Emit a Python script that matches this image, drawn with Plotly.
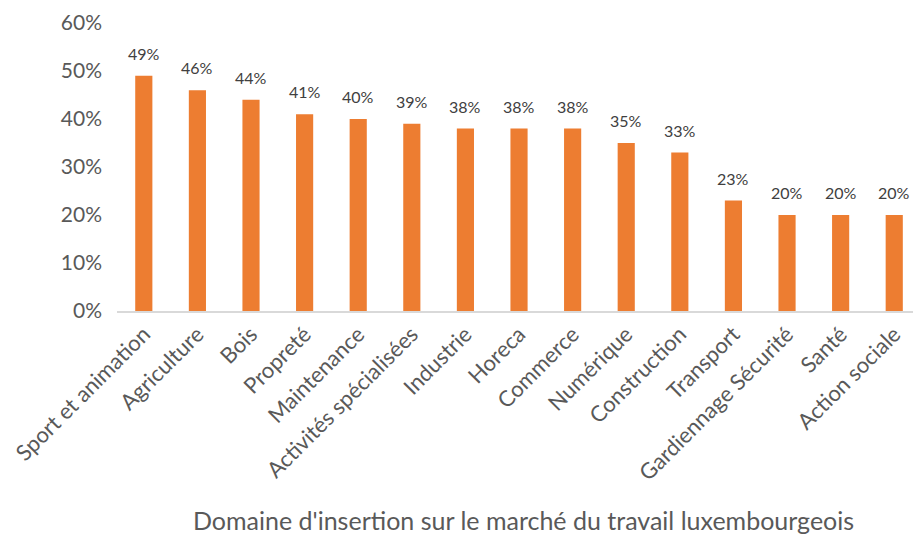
import plotly.graph_objects as go

categories = ["Sport et animation", "Agriculture", "Bois", "Propreté", "Maintenance",
              "Activités spécialisées", "Industrie", "Horeca", "Commerce", "Numérique",
              "Construction", "Transport", "Gardiennage Sécurité", "Santé", "Action sociale"]
values = [0.49, 0.46, 0.44, 0.41, 0.40, 0.39, 0.38, 0.38, 0.38, 0.35, 0.33, 0.23, 0.20, 0.20, 0.20]
y_ticks = [0, 0.1, 0.2, 0.3, 0.4, 0.5, 0.6]
y_tick_labels = ["0%", "10%", "20%", "30%", "40%", "50%", "60%"]
x_title = "Domaine d'insertion sur le marché du travail luxembourgeois"

FONT = "Lato, Carlito, Calibri, sans-serif"

W, H = 913, 534
ML, MR, MT, MB = 117, 0, 23, 223

fig = go.Figure()
fig.add_trace(go.Bar(
    x=categories, y=values,
    marker=dict(color="#ED7D31", line=dict(width=0)),
    cliponaxis=False,
))

annotations = []
for c, v in zip(categories, values):
    annotations.append(dict(
        x=c, y=v, xref="x", yref="y", text=f"{round(v*100)}%",
        showarrow=False, yanchor="bottom", xanchor="center", yshift=11,
        font=dict(family=FONT, size=16, color="#404040"),
    ))

plot_w = W - ML - MR
plot_h = H - MT - MB
annotations.append(dict(
    text=x_title,
    x=(523 - ML) / plot_w, xref="paper",
    y=(H - MB - 520) / plot_h, yref="paper",
    xanchor="center", yanchor="middle",
    showarrow=False,
    font=dict(family=FONT, size=25, color="#595959"),
))

fig.update_layout(
    width=W, height=H,
    margin=dict(l=ML, r=MR, t=MT, b=MB, autoexpand=False),
    paper_bgcolor="white", plot_bgcolor="white",
    bargap=0.68,
    showlegend=False,
    font=dict(family=FONT, color="#595959"),
    xaxis=dict(
        range=[-0.5, 14.35],
        tickangle=-45,
        tickfont=dict(family=FONT, size=22, color="#595959"),
        showline=True, linecolor="#D9D9D9", linewidth=1.5,
        showgrid=False, ticks="", automargin=False,
    ),
    yaxis=dict(
        range=[0, 0.6],
        tickvals=y_ticks, ticktext=y_tick_labels,
        tickfont=dict(family=FONT, size=21, color="#595959"),
        showgrid=False, zeroline=False, showline=False, ticks="",
        ticklabelstandoff=14, automargin=False,
    ),
    annotations=annotations,
)

fig.write_html("out.html",
               config={"displayModeBar": False},
               post_script="document.body.style.margin='0';document.body.style.overflow='hidden';")
